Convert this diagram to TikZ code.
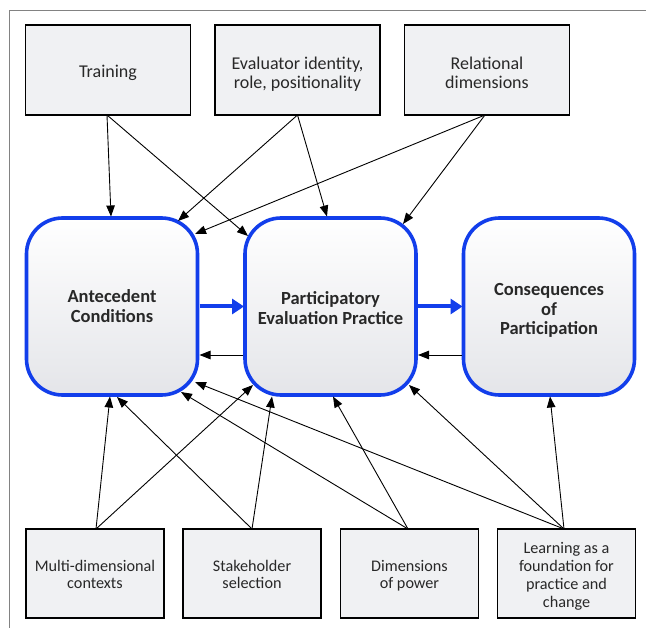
\documentclass[tikz,border=0pt]{standalone}
\usepackage{fontspec}
\setmainfont{Carlito}
\usetikzlibrary{arrows.meta,calc}
\definecolor{pblue}{RGB}{18,62,235}
\definecolor{boxgray}{RGB}{240,241,243}
\definecolor{shadegray}{RGB}{228,229,233}
\definecolor{framegray}{RGB}{130,130,130}
\definecolor{textgray}{RGB}{40,40,40}
\newcommand\lowtext[2]{\raisebox{-#1}[\height][\depth]{\begin{tabular}{@{}c@{}}#2\end{tabular}}}
\begin{document}
\begin{tikzpicture}[x=1pt,y=-1pt,
  factor/.style={draw=black,line width=1.4pt,fill=boxgray,text=textgray,minimum width=165pt,minimum height=90pt,inner sep=2pt,outer sep=0pt,font=\fontsize{18}{19.5}\selectfont},
  lowfactor/.style={factor,minimum width=138pt,minimum height=89pt,font=\fontsize{16.2}{17.8}\selectfont},
  stage/.style={draw=pblue,line width=3.6pt,rounded corners=36pt,top color=white,bottom color=shadegray,text=textgray,minimum width=171pt,minimum height=177pt,inner sep=2pt,outer sep=0pt,font=\bfseries\fontsize{18.5}{19.5}\selectfont},
  link/.style={-{Triangle[length=11pt,width=8.5pt]},line width=0.9pt,black},
  flow/.style={-{Triangle[length=12pt,width=15pt]},line width=4pt,pblue}]
\useasboundingbox (0,0) rectangle (646,628);
\fill[white] (0,0) rectangle (646,628);
\draw[framegray,line width=1.3pt] (9.5,628) -- (9.5,10.5) -- (646,10.5);

% top factors
\node[factor] (tr) at (108,70) {\lowtext{4pt}{Training}};
\node[factor] (ev) at (297.5,70) {\lowtext{5pt}{Evaluator identity,\\role, positionality}};
\node[factor] (rel) at (487,70) {\lowtext{5pt}{Relational\\dimensions}};

% stages
\node[stage] (ant) at (112,306.5) {\lowtext{2pt}{Antecedent\\Conditions}};
\node[stage] (par) at (330.5,306.5) {\lowtext{4pt}{Participatory\\Evaluation Practice}};
\node[stage] (con) at (549,306.5) {\lowtext{5pt}{Consequences\\of\\Participation}};

% bottom factors
\node[lowfactor] (mul) at (95,573.5) {\lowtext{3pt}{Multi-dimensional\\contexts}};
\node[lowfactor] (sta) at (252,573.5) {\lowtext{3pt}{Stakeholder\\selection}};
\node[lowfactor] (dim) at (409.5,573.5) {\lowtext{3pt}{Dimensions\\of power}};
\node[lowfactor] (lea) at (566.5,573.5) {\lowtext{3.5pt}{Learning as a\\foundation for\\practice and\\change}};

% target points on the stage borders
\coordinate (a1) at (111,216.5);
\coordinate (p1) at (248,236);
\coordinate (a2) at (178,221);
\coordinate (p2) at (327,216.5);
\coordinate (a3) at (195,234);
\coordinate (p3) at (403,224);
\coordinate (a4) at (110,396.5);
\coordinate (p4) at (253,385);
\coordinate (a5) at (117,397);
\coordinate (p5) at (272,396.5);
\coordinate (a6) at (181,392);
\coordinate (p6) at (333,396.5);
\coordinate (a7) at (195,382);
\coordinate (p7) at (409,385);
\coordinate (c7) at (550,396.5);

% top links
\draw[link] ([xshift=-1pt]tr.south) -- (a1);
\draw[link] ([xshift=-1pt]tr.south) -- (p1);
\draw[link] (ev.south) -- (a2);
\draw[link] (ev.south) -- (p2);
\draw[link] ([xshift=-2pt]rel.south) -- (a3);
\draw[link] ([xshift=-2pt]rel.south) -- (p3);

% bottom links
\draw[link] ([xshift=1pt]mul.north) -- (a4);
\draw[link] ([xshift=1pt]mul.north) -- (p4);
\draw[link] (sta.north) -- (a5);
\draw[link] (sta.north) -- (p5);
\draw[link] ([xshift=-1.5pt]dim.north) -- (a6);
\draw[link] ([xshift=-1.5pt]dim.north) -- (p6);
\draw[link] ([xshift=-2.5pt]lea.north) -- (a7);
\draw[link] ([xshift=-2.5pt]lea.north) -- (p7);
\draw[link] ([xshift=-2.5pt]lea.north) -- (c7);

% flows between stages
\draw[flow] ([xshift=2pt]ant.east) -- ([xshift=-1pt]par.west);
\draw[flow] ([xshift=2pt]par.east) -- ([xshift=-1pt]con.west);
\draw[link] ([yshift=-48.5pt,xshift=-2pt]par.west) -- ([yshift=-48.5pt,xshift=2pt]ant.east);
\draw[link] ([yshift=-48.5pt,xshift=-2pt]con.west) -- ([yshift=-48.5pt,xshift=2pt]par.east);
\end{tikzpicture}
\end{document}
